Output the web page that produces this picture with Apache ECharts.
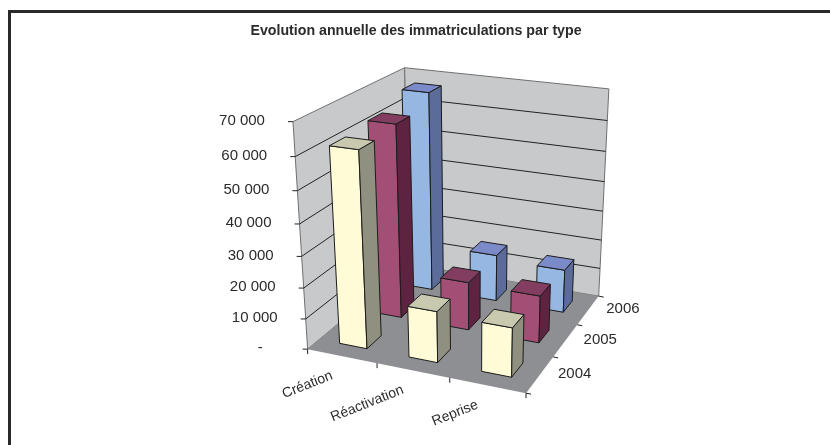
<!DOCTYPE html>
<html>
<head>
<meta charset="utf-8">
<style>
  html, body { margin: 0; padding: 0; background: #fff; }
  #chart { width: 830px; height: 445px; }
</style>
<script src="https://cdn.jsdelivr.net/npm/echarts@6/dist/echarts.min.js"></script>
</head>
<body>
<div id="chart"></div>
<script>
const categories = ['Création', 'Réactivation', 'Reprise']
const years = ['2004', '2005', '2006']
const values2004 = [62000, 16500, 15700]
const values2005 = [63200, 16000, 15600]
const values2006 = [67200, 16000, 14700]
const valueTicks = [0, 10000, 20000, 30000, 40000, 50000, 60000, 70000]
const valueLabels = ['-', '10 000', '20 000', '30 000', '40 000', '50 000', '60 000', '70 000']

// coins de la boite 3D sur l'image : [u, v, w, x, y]
const boxCorners = [
  [0, 0, 0, 306.7, 348.3],
  [1, 0, 0, 526, 394],
  [1, 1, 0, 598.3, 295],
  [0, 1, 0, 410.5, 265.5],
  [0, 0, 1, 294, 121.7],
  [1, 1, 1, 609.3, 89.3],
  [0, 1, 1, 403.3, 67.3],
]

// projection perspective ajustee sur les coins (moindres carres)
const fitProjection = (pts) => {
  const rows = []
  pts.forEach(([u, v, w, x, y]) => {
    rows.push([u, v, w, 1, 0, 0, 0, 0, -x * u, -x * v, -x * w, x])
    rows.push([0, 0, 0, 0, u, v, w, 1, -y * u, -y * v, -y * w, y])
  })
  const n = 11
  const m = []
  for (let i = 0; i < n; i++) {
    m.push([])
    for (let j = 0; j <= n; j++) {
      m[i].push(rows.reduce((sum, r) => sum + r[i] * r[j], 0))
    }
  }
  for (let i = 0; i < n; i++) {
    let best = i
    for (let k = i + 1; k < n; k++) {
      if (Math.abs(m[k][i]) > Math.abs(m[best][i])) best = k
    }
    ;[m[i], m[best]] = [m[best], m[i]]
    for (let k = 0; k < n; k++) {
      if (k === i) continue
      const f = m[k][i] / m[i][i]
      for (let j = i; j <= n; j++) m[k][j] -= f * m[i][j]
    }
  }
  return m.map((row, i) => row[n] / row[i])
}
const p = fitProjection(boxCorners)
const project = (u, v, w) => {
  const d = p[8] * u + p[9] * v + p[10] * w + 1
  return [
    (p[0] * u + p[1] * v + p[2] * w + p[3]) / d,
    (p[4] * u + p[5] * v + p[6] * w + p[7]) / d,
  ]
}

const TEXT = '#2b2b2b'
const LINE = '#222'
const FONT = '"Liberation Sans", Arial, sans-serif'

const seg = (a, b, color, width) => ({
  type: 'line',
  shape: { x1: a[0], y1: a[1], x2: b[0], y2: b[1] },
  style: { stroke: color, lineWidth: width },
})
const poly = (points, fill, stroke) => ({
  type: 'polygon',
  shape: { points },
  style: { fill, stroke: stroke || 'none', lineWidth: 1 },
})
const label = (x, y, text, align, size, rotation) => ({
  type: 'text',
  x,
  y,
  rotation: rotation || 0,
  style: {
    text,
    fill: TEXT,
    font: size + 'px ' + FONT,
    textAlign: align,
    textVerticalAlign: 'middle',
  },
})

// murs, sol, graduations et libelles
const renderFrame = (params, api) => {
  const cs = params.coordSys
  const toW = (t) => 1 - (api.coord([0, t])[1] - cs.y) / cs.height
  const children = [
    poly([project(0, 0, 0), project(0, 1, 0), project(0, 1, 1), project(0, 0, 1)], '#c8c9cb', '#6f7072'),
    poly([project(0, 1, 0), project(1, 1, 0), project(1, 1, 1), project(0, 1, 1)], '#c8c9cb', '#6f7072'),
    poly([project(0, 0, 0), project(1, 0, 0), project(1, 1, 0), project(0, 1, 0)], '#8e8f93'),
  ]
  valueTicks.forEach((t, i) => {
    const w = toW(t)
    const left = project(0, 0, w)
    if (t > 0 && i < valueTicks.length - 1) {
      children.push(seg(left, project(0, 1, w), LINE, 1))
      children.push(seg(project(0, 1, w), project(1, 1, w), LINE, 1))
    }
    children.push(seg(left, [left[0] - 5, left[1]], LINE, 1))
    children.push(label(left[0] + (t === 0 ? -45 : -28), left[1] - 1, valueLabels[i], 'right', 15))
  })
  for (let i = 0; i <= categories.length; i++) {
    const a = project(i / categories.length, 0, 0)
    children.push(seg(a, [a[0], a[1] + 5], LINE, 1))
  }
  categories.forEach((name, i) => {
    const a = project((i + 0.5) / categories.length, 0, 0)
    children.push(label(a[0] - 10, a[1] + 19, name, 'right', 14, 0.38))
  })
  for (let j = 0; j <= years.length; j++) {
    const a = project(1, j / years.length, 0)
    children.push(seg(a, [a[0] + 5, a[1] + 1], LINE, 1))
  }
  years.forEach((year, j) => {
    const a = project(1, (j + 0.5) / years.length, 0)
    children.push(label(a[0] + 18, a[1] - 1, year, 'left', 15))
  })
  return { type: 'group', children }
}

// une barre 3D : face avant, cote droit, dessus
const makeBarRender = (year, colors) => (params, api) => {
  const cs = params.coordSys
  const top = api.coord([api.value(0), api.value(1)])
  const u = (top[0] - cs.x) / cs.width
  const w = 1 - (top[1] - cs.y) / cs.height
  const halfU = (0.4 * api.size([1, 0])[0]) / 2 / cs.width
  const cell = 1 / years.length
  const v = (years.indexOf(year) + 0.5) * cell
  const halfV = 0.2 * cell
  const c = (du, dv, h) => project(u + du * halfU, v + dv * halfV, h)
  return {
    type: 'group',
    children: [
      poly([c(-1, -1, 0), c(1, -1, 0), c(1, -1, w), c(-1, -1, w)], colors[0], '#1c1c1c'),
      poly([c(1, -1, 0), c(1, 1, 0), c(1, 1, w), c(1, -1, w)], colors[1], '#1c1c1c'),
      poly([c(-1, -1, w), c(1, -1, w), c(1, 1, w), c(-1, 1, w)], colors[2], '#1c1c1c'),
    ],
  }
}

const barSeries = (year, values, colors) => ({
  type: 'custom',
  name: year,
  coordinateSystem: 'cartesian2d',
  clip: false,
  silent: true,
  animation: false,
  renderItem: makeBarRender(year, colors),
  encode: { x: 0, y: 1 },
  data: values.map((value, i) => [i, value]),
})

const chart = echarts.init(document.getElementById('chart'), null, { renderer: 'canvas' })
chart.setOption({
  backgroundColor: '#fff',
  animation: false,
  title: {
    text: 'Evolution annuelle des immatriculations par type',
    left: 411,
    top: 19,
    textAlign: 'center',
    textStyle: {
      color: TEXT,
      fontFamily: FONT,
      fontSize: 14.2,
      fontWeight: 'bold',
    },
  },
  // axes masques : ils donnent les echelles, la projection fait le reste
  grid: { left: 0, top: 0, width: 300, height: 300 },
  xAxis: { type: 'category', data: categories, show: false },
  yAxis: { type: 'value', min: 0, max: 70000, show: false },
  graphic: [
    { type: 'line', shape: { x1: 9.5, y1: 11.5, x2: 830, y2: 11.5 }, style: { stroke: '#2a2a2a', lineWidth: 3 } },
    { type: 'line', shape: { x1: 9.5, y1: 10, x2: 9.5, y2: 445 }, style: { stroke: '#2a2a2a', lineWidth: 3 } },
  ],
  series: [
    {
      type: 'custom',
      coordinateSystem: 'cartesian2d',
      clip: false,
      silent: true,
      animation: false,
      renderItem: renderFrame,
      data: [[0, 0]],
    },
    barSeries('2006', values2006, ['#95b7e2', '#5b6c9b', '#7b8bc9']),
    barSeries('2005', values2005, ['#a34f75', '#5e2340', '#823d60']),
    barSeries('2004', values2004, ['#fffbd6', '#8f9080', '#c9c9b0']),
  ],
})
</script>
</body>
</html>
